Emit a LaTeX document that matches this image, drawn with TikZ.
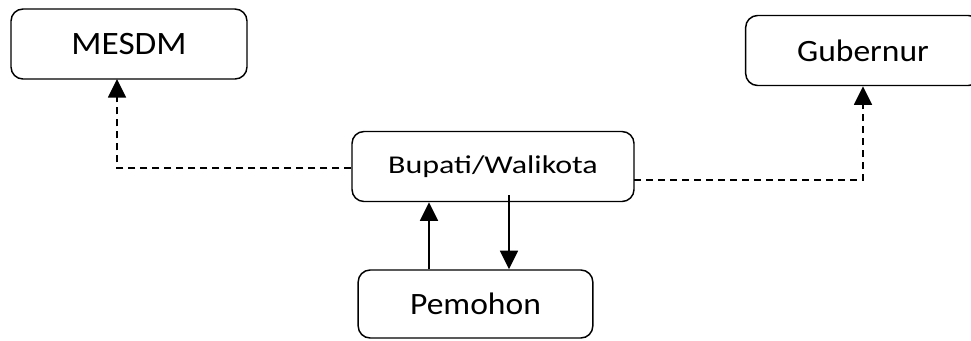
\documentclass[tikz,border=0pt]{standalone}
\usepackage{fontspec}
\setmainfont{Carlito}
\newfontfamily\boxfont[FakeStretch=1.08]{Carlito}
\newfontfamily\widefont[FakeStretch=1.25]{Carlito}
\usetikzlibrary{arrows.meta}
\begin{document}
\begin{tikzpicture}[
  x=0.75pt, y=-0.75pt,
  every node/.style={inner sep=1pt},
  box/.style={draw, line width=1.1pt, rounded corners=9pt, minimum height=52.5pt},
  link/.style={line width=1.2pt, -{Triangle[width=13.5pt,length=14pt]}},
  dashlink/.style={link, dash pattern=on 5.25pt off 3.75pt}
]
  \useasboundingbox (0,0) rectangle (971,340);
  \node[box, minimum width=177pt, font=\boxfont\fontsize{24.5}{28}\selectfont] (mesdm) at (129,44) {MESDM};
  \node[box, minimum width=176pt, font=\boxfont\fontsize{23.3}{27}\selectfont] (gubernur) at (863,50.5) {Gubernur};
  \node[box, minimum width=211.5pt, font=\widefont\fontsize{19.2}{23}\selectfont] (bupati) at (493,166.5) {Bupati/Walikota};
  \node[box, minimum width=176pt, minimum height=51pt, font=\boxfont\fontsize{23.3}{27}\selectfont] (pemohon) at (475.5,304) {Pemohon};

  \coordinate (mesdmIn) at (117,79);
  \coordinate (gubOut) at (634,180);

  \draw[dashlink] (bupati.west |- 0,168) -| (mesdmIn);
  \draw[dashlink] (gubOut) -| (gubernur.south);
  \draw[link] (pemohon.north -| 429,0) -- (bupati.south -| 429,0);
  \draw[link] (509,195) -- (pemohon.north -| 509,0);
\end{tikzpicture}
\end{document}
